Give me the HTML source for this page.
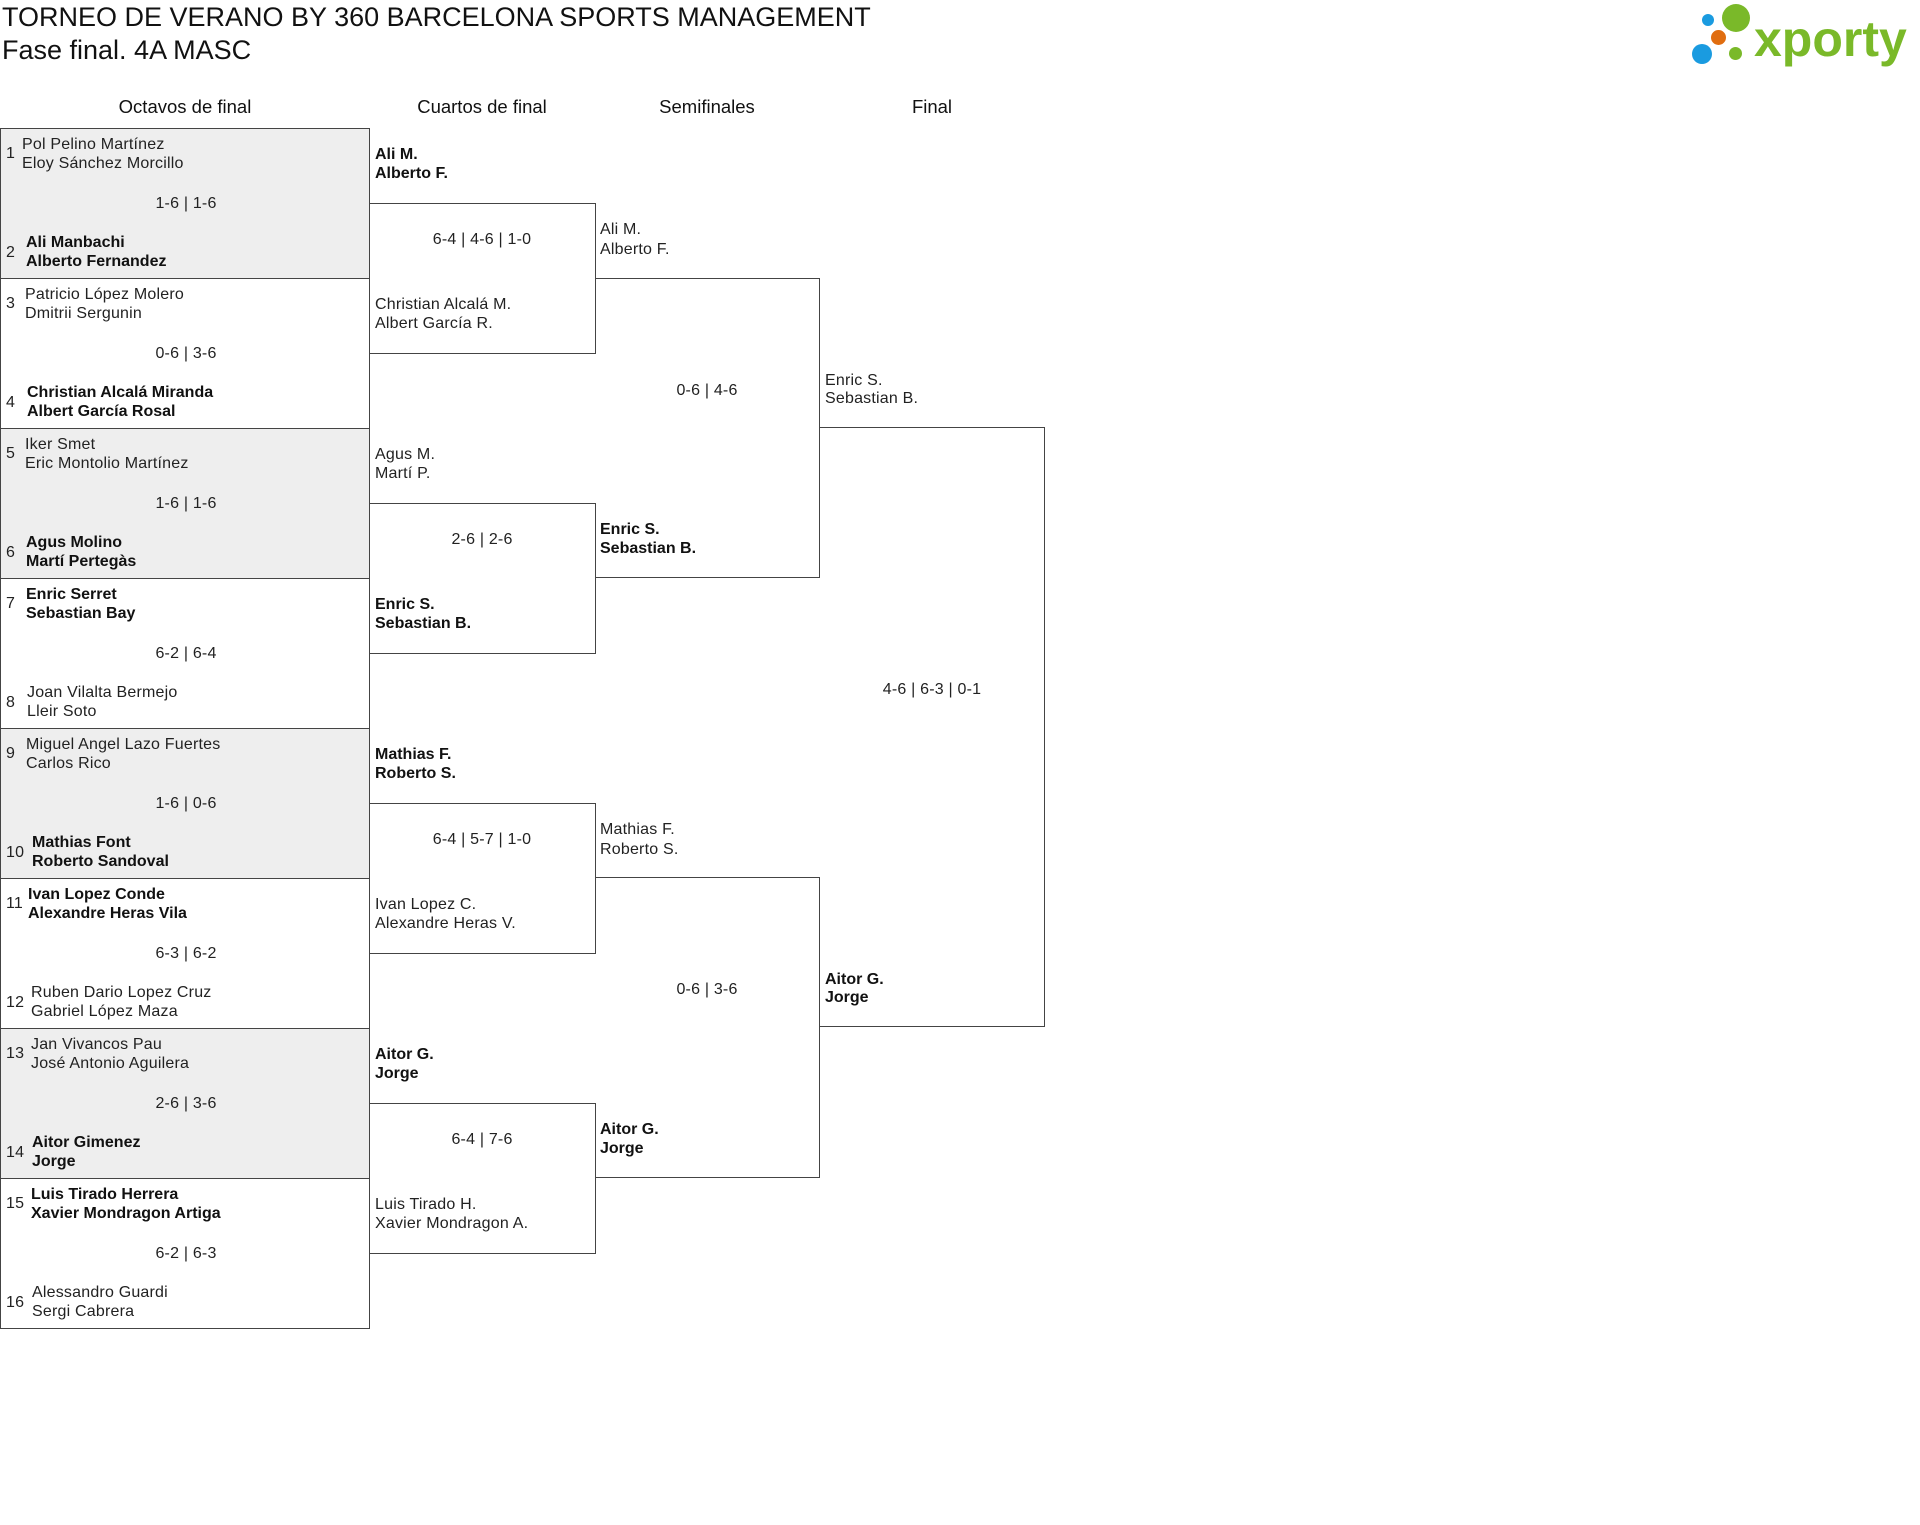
<!DOCTYPE html>
<html><head><meta charset="utf-8"><style>
body{margin:0;width:1920px;height:1525px;background:#fff;position:relative;overflow:hidden;font-family:"Liberation Sans",sans-serif;color:#222}
.t{position:absolute;font-size:16px;line-height:18px;white-space:nowrap;letter-spacing:0.2px}
.b{font-weight:bold;color:#111;letter-spacing:0}
.s{position:absolute;font-size:16px;line-height:18px;white-space:nowrap;transform:translateX(-50%);letter-spacing:0.2px}
.m{position:absolute;left:0;width:370px;height:151px;box-sizing:border-box;border:1px solid #444}
.g{background:#eee}
.bx{position:absolute;box-sizing:border-box;border:1px solid #444;border-left:none}
.h{position:absolute;top:96px;font-size:18.5px;line-height:22px;transform:translateX(-50%);white-space:nowrap;color:#111}
.c{position:absolute;border-radius:50%}
</style></head><body>
<div style="position:absolute;left:2px;top:1px;font-size:27px;line-height:32px;color:#111">TORNEO DE VERANO BY 360 BARCELONA SPORTS MANAGEMENT</div>
<div style="position:absolute;left:2px;top:34px;font-size:27px;line-height:32px;color:#111">Fase final. 4A MASC</div>

<div class="c" style="left:1702px;top:14px;width:12px;height:12px;background:#1a9be0"></div>
<div class="c" style="left:1722px;top:4px;width:28px;height:28px;background:#7ab929"></div>
<div class="c" style="left:1711px;top:30px;width:15px;height:15px;background:#e06d10"></div>
<div class="c" style="left:1692px;top:44px;width:20px;height:20px;background:#1a9be0"></div>
<div class="c" style="left:1729px;top:47px;width:13px;height:13px;background:#7ab929"></div>
<div style="position:absolute;left:1754px;top:14px;font-size:50px;line-height:50px;font-weight:bold;color:#7ab929;letter-spacing:0px">xporty</div>

<div class="h" style="left:185px">Octavos de final</div>
<div class="h" style="left:482px">Cuartos de final</div>
<div class="h" style="left:707px">Semifinales</div>
<div class="h" style="left:932px">Final</div>

<!-- Octavos -->
<div class="m g" style="top:128px">
<div class="t" style="left:5px;top:16px">1</div><div class="t" style="left:21px;top:7px">Pol Pelino Martínez</div><div class="t" style="left:21px;top:26px">Eloy Sánchez Morcillo</div>
<div class="s" style="left:185px;top:66px">1-6 | 1-6</div>
<div class="t" style="left:5px;top:115px">2</div><div class="t b" style="left:25px;top:105px">Ali Manbachi</div><div class="t b" style="left:25px;top:124px">Alberto Fernandez</div></div>
<div class="m" style="top:278px">
<div class="t" style="left:5px;top:16px">3</div><div class="t" style="left:24px;top:7px">Patricio López Molero</div><div class="t" style="left:24px;top:26px">Dmitrii Sergunin</div>
<div class="s" style="left:185px;top:66px">0-6 | 3-6</div>
<div class="t" style="left:5px;top:115px">4</div><div class="t b" style="left:26px;top:105px">Christian Alcalá Miranda</div><div class="t b" style="left:26px;top:124px">Albert García Rosal</div></div>
<div class="m g" style="top:428px">
<div class="t" style="left:5px;top:16px">5</div><div class="t" style="left:24px;top:7px">Iker Smet</div><div class="t" style="left:24px;top:26px">Eric Montolio Martínez</div>
<div class="s" style="left:185px;top:66px">1-6 | 1-6</div>
<div class="t" style="left:5px;top:115px">6</div><div class="t b" style="left:25px;top:105px">Agus Molino</div><div class="t b" style="left:25px;top:124px">Martí Pertegàs</div></div>
<div class="m" style="top:578px">
<div class="t" style="left:5px;top:16px">7</div><div class="t b" style="left:25px;top:7px">Enric Serret</div><div class="t b" style="left:25px;top:26px">Sebastian Bay</div>
<div class="s" style="left:185px;top:66px">6-2 | 6-4</div>
<div class="t" style="left:5px;top:115px">8</div><div class="t" style="left:26px;top:105px">Joan Vilalta Bermejo</div><div class="t" style="left:26px;top:124px">Lleir Soto</div></div>
<div class="m g" style="top:728px">
<div class="t" style="left:5px;top:16px">9</div><div class="t" style="left:25px;top:7px">Miguel Angel Lazo Fuertes</div><div class="t" style="left:25px;top:26px">Carlos Rico</div>
<div class="s" style="left:185px;top:66px">1-6 | 0-6</div>
<div class="t" style="left:5px;top:115px">10</div><div class="t b" style="left:31px;top:105px">Mathias Font</div><div class="t b" style="left:31px;top:124px">Roberto Sandoval</div></div>
<div class="m" style="top:878px">
<div class="t" style="left:5px;top:16px">11</div><div class="t b" style="left:27px;top:7px">Ivan Lopez Conde</div><div class="t b" style="left:27px;top:26px">Alexandre Heras Vila</div>
<div class="s" style="left:185px;top:66px">6-3 | 6-2</div>
<div class="t" style="left:5px;top:115px">12</div><div class="t" style="left:30px;top:105px">Ruben Dario Lopez Cruz</div><div class="t" style="left:30px;top:124px">Gabriel López Maza</div></div>
<div class="m g" style="top:1028px">
<div class="t" style="left:5px;top:16px">13</div><div class="t" style="left:30px;top:7px">Jan Vivancos Pau</div><div class="t" style="left:30px;top:26px">José Antonio Aguilera</div>
<div class="s" style="left:185px;top:66px">2-6 | 3-6</div>
<div class="t" style="left:5px;top:115px">14</div><div class="t b" style="left:31px;top:105px">Aitor Gimenez</div><div class="t b" style="left:31px;top:124px">Jorge</div></div>
<div class="m" style="top:1178px">
<div class="t" style="left:5px;top:16px">15</div><div class="t b" style="left:30px;top:7px">Luis Tirado Herrera</div><div class="t b" style="left:30px;top:26px">Xavier Mondragon Artiga</div>
<div class="s" style="left:185px;top:66px">6-2 | 6-3</div>
<div class="t" style="left:5px;top:115px">16</div><div class="t" style="left:31px;top:105px">Alessandro Guardi</div><div class="t" style="left:31px;top:124px">Sergi Cabrera</div></div>

<!-- Cuartos -->
<div class="bx" style="left:369px;top:203px;width:227px;height:151px"></div>
<div class="t b" style="left:375px;top:146px">Ali M.</div><div class="t b" style="left:375px;top:165px">Alberto F.</div>
<div class="s" style="left:482px;top:231px">6-4 | 4-6 | 1-0</div>
<div class="t" style="left:375px;top:296px">Christian Alcalá M.</div><div class="t" style="left:375px;top:315px">Albert García R.</div>

<div class="bx" style="left:369px;top:503px;width:227px;height:151px"></div>
<div class="t" style="left:375px;top:446px">Agus M.</div><div class="t" style="left:375px;top:465px">Martí P.</div>
<div class="s" style="left:482px;top:531px">2-6 | 2-6</div>
<div class="t b" style="left:375px;top:596px">Enric S.</div><div class="t b" style="left:375px;top:615px">Sebastian B.</div>

<div class="bx" style="left:369px;top:803px;width:227px;height:151px"></div>
<div class="t b" style="left:375px;top:746px">Mathias F.</div><div class="t b" style="left:375px;top:765px">Roberto S.</div>
<div class="s" style="left:482px;top:831px">6-4 | 5-7 | 1-0</div>
<div class="t" style="left:375px;top:896px">Ivan Lopez C.</div><div class="t" style="left:375px;top:915px">Alexandre Heras V.</div>

<div class="bx" style="left:369px;top:1103px;width:227px;height:151px"></div>
<div class="t b" style="left:375px;top:1046px">Aitor G.</div><div class="t b" style="left:375px;top:1065px">Jorge</div>
<div class="s" style="left:482px;top:1131px">6-4 | 7-6</div>
<div class="t" style="left:375px;top:1196px">Luis Tirado H.</div><div class="t" style="left:375px;top:1215px">Xavier Mondragon A.</div>

<!-- Semis -->
<div class="bx" style="left:595px;top:278px;width:225px;height:300px"></div>
<div class="t" style="left:600px;top:221px">Ali M.</div><div class="t" style="left:600px;top:241px">Alberto F.</div>
<div class="s" style="left:707px;top:382px">0-6 | 4-6</div>
<div class="t b" style="left:600px;top:521px">Enric S.</div><div class="t b" style="left:600px;top:540px">Sebastian B.</div>

<div class="bx" style="left:595px;top:877px;width:225px;height:301px"></div>
<div class="t" style="left:600px;top:821px">Mathias F.</div><div class="t" style="left:600px;top:841px">Roberto S.</div>
<div class="s" style="left:707px;top:981px">0-6 | 3-6</div>
<div class="t b" style="left:600px;top:1121px">Aitor G.</div><div class="t b" style="left:600px;top:1140px">Jorge</div>

<!-- Final -->
<div class="bx" style="left:819px;top:427px;width:226px;height:600px"></div>
<div class="t" style="left:825px;top:372px">Enric S.</div><div class="t" style="left:825px;top:390px">Sebastian B.</div>
<div class="s" style="left:932px;top:681px">4-6 | 6-3 | 0-1</div>
<div class="t b" style="left:825px;top:971px">Aitor G.</div><div class="t b" style="left:825px;top:989px">Jorge</div>
</body></html>
